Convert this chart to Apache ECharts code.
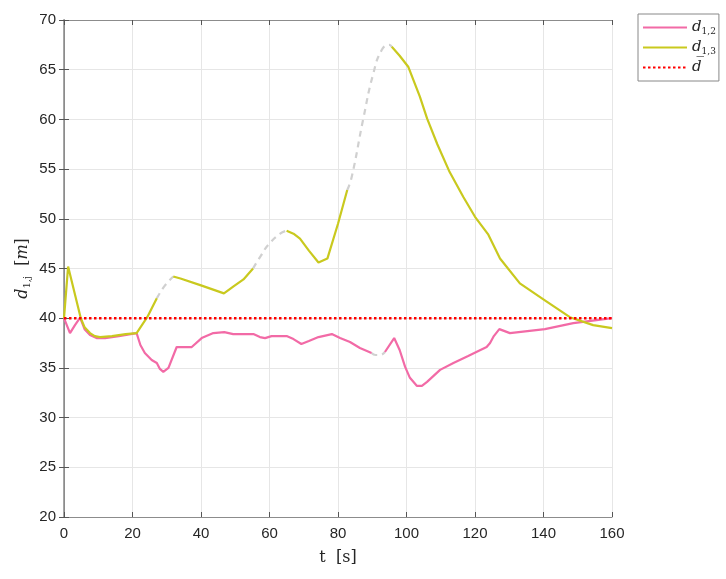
<!DOCTYPE html>
<html>
<head>
<meta charset="utf-8">
<script src="https://cdn.jsdelivr.net/npm/echarts@6/dist/echarts.min.js"></script>
<style>html,body{margin:0;padding:0;background:#fff}#c{width:726px;height:579px}</style>
</head>
<body>
<div id="c"></div>
<script>
// ---- data ----
const xTicks = [0, 20, 40, 60, 80, 100, 120, 140, 160];
const yTicks = [20, 25, 30, 35, 40, 45, 50, 55, 60, 65, 70];
const dBar = 40;

// d_{1,2}: solid segment 1, gap (dashed gray), solid segment 2
const t12a = [0, 1.75, 3.2, 4.7, 6, 7.6, 9.5, 12, 16, 21.2, 22.3, 23.6, 25.6, 27.1, 28, 29, 30.5, 32.9, 37.3, 40.2, 43.6, 46.8, 49.4, 55.3, 57.2, 58.7, 60.6, 65, 67, 69.3, 71.5, 74.3, 78.2, 80.6, 83.5, 86.4, 89.8];
const v12a = [40, 38.5, 39.3, 40.05, 38.9, 38.3, 38.0, 38.0, 38.2, 38.5, 37.3, 36.5, 35.8, 35.5, 34.9, 34.6, 35.0, 37.1, 37.1, 38.0, 38.5, 38.6, 38.4, 38.4, 38.1, 38.0, 38.2, 38.2, 37.9, 37.4, 37.7, 38.1, 38.4, 38.0, 37.6, 37.0, 36.5];
const t12gap = [89.8, 91, 92.3, 93.7];
const v12gap = [36.5, 36.3, 36.3, 36.6];
const t12b = [93.7, 96.4, 98, 99.6, 101, 103, 104.5, 106, 109.8, 113.7, 118, 123.4, 124.4, 125.5, 127.1, 130.2, 140.4, 148.7, 160];
const v12b = [36.6, 38.0, 36.8, 35.1, 34.0, 33.2, 33.2, 33.6, 34.8, 35.5, 36.2, 37.1, 37.5, 38.2, 38.9, 38.5, 38.9, 39.5, 40.0];

// d_{1,3}: solid segments and dashed gray gaps
const t13a = [0, 1.2, 4.9, 6, 7.6, 9, 10.5, 14, 18, 21.2, 24.3, 27.1];
const v13a = [40, 45.2, 40, 39.1, 38.5, 38.2, 38.1, 38.2, 38.4, 38.5, 40.1, 42.0];
const t13gap1 = [27.1, 29.5, 31.9];
const v13gap1 = [42.0, 43.3, 44.2];
const t13b = [31.9, 34, 40, 46.7, 49.5, 52.4, 55.2];
const v13b = [44.2, 44.0, 43.3, 42.5, 43.2, 43.9, 45.0];
const t13gap2 = [55.2, 57.5, 59.7, 63.1, 65];
const v13gap2 = [45.0, 46.3, 47.4, 48.5, 48.8];
const t13c = [65, 67, 68.9, 71.5, 74.3, 76.9, 80, 82.7];
const v13c = [48.8, 48.5, 48.0, 46.8, 45.6, 46.0, 49.5, 52.9];
const t13gap3 = [82.7, 84, 87.4, 90.3, 92.8, 95, 95.7];
const v13gap3 = [52.9, 54.2, 60.1, 64.6, 67.0, 67.5, 67.3];
const t13d = [95.7, 98, 100.5, 103.9, 106, 109, 112.6, 116.6, 120, 123.9, 127.3, 133.1, 140.4, 147.7, 154.5, 160];
const v13d = [67.3, 66.4, 65.3, 62.3, 60.1, 57.5, 54.7, 52.2, 50.2, 48.4, 46.0, 43.5, 41.8, 40.1, 39.3, 39.0];

// ---- styles ----
const PINK = '#f26aa6';
const YEL = '#c9c91e';
const GRAY = '#d0d0d0';
const RED = '#ff0000';

const zip = (t, v) => t.map((x, i) => [x, v[i]]);

function solid(name, t, v, color) {
  return { name, type: 'line', data: zip(t, v), symbol: 'none', smooth: false,
    lineStyle: { color, width: 2.2 }, itemStyle: { color }, z: 3, animation: false };
}
function gap(t, v) {
  return { name: 'gap', type: 'line', data: zip(t, v), symbol: 'none', smooth: true,
    lineStyle: { color: GRAY, width: 2.2, type: [6, 5] }, z: 2, animation: false, silent: true };
}

const serif = 'DejaVu Serif';
const richLegend = {
  i: { fontFamily: serif, fontStyle: 'italic', fontSize: 15, color: '#262626' },
  s: { fontFamily: serif, fontSize: 9, color: '#262626', padding: [8, 0, 0, 0] }
};
const richAxis = {
  i: { fontFamily: serif, fontStyle: 'italic', fontSize: 16, color: '#262626' },
  s: { fontFamily: serif, fontSize: 10, color: '#262626', padding: [9, 0, 0, 0] },
  n: { fontFamily: serif, fontSize: 16, color: '#262626' }
};

const chart = echarts.init(document.getElementById('c'), null, { renderer: 'canvas' });
const option = {
  backgroundColor: '#fff',
  animation: false,
  grid: { left: 64, right: 114, top: 20, bottom: 62, containLabel: false },
  legend: {
    orient: 'vertical', left: 638, top: 14,
    data: ['d12', 'd13', 'dbar'],
    itemWidth: 44, itemHeight: 14, itemGap: 4,
    padding: [6, 3, 6, 4],
    itemStyle: { opacity: 0 },
    borderColor: '#888', borderWidth: 1, backgroundColor: '#fff',
    formatter: function (n) {
      if (n === 'd12') return '{i|d}{s|1,2}';
      if (n === 'd13') return '{i|d}{s|1,3}';
      return '{i|d\u0305}';
    },
    textStyle: { rich: richLegend, padding: [0, 0, 0, 0] }
  },
  xAxis: [
    { type: 'value', min: 0, max: 160, interval: 20, position: 'bottom',
      name: '{n|t  [s]}', nameLocation: 'middle', nameGap: 33, nameMoveOverlap: false,
      nameTextStyle: { rich: richAxis },
      axisLine: { show: true, lineStyle: { color: '#8c8c8c', width: 1 } },
      axisTick: { show: true, inside: true, length: 5, lineStyle: { color: '#555' } },
      axisLabel: { color: '#262626', fontSize: 15, fontFamily: 'Liberation Sans', margin: 9,
        formatter: v => xTicks.includes(v) ? String(v) : '' },
      splitLine: { show: true, lineStyle: { color: '#e6e6e6', width: 1 } } },
    { type: 'value', min: 0, max: 160, interval: 20, position: 'top',
      axisLine: { show: true, lineStyle: { color: '#8c8c8c', width: 1 } },
      axisTick: { show: true, inside: true, length: 5, lineStyle: { color: '#555' } },
      axisLabel: { show: false }, splitLine: { show: false } }
  ],
  yAxis: [
    { type: 'value', min: 20, max: 70, interval: 5, position: 'left',
      name: '{i|d}{s|1,j}{n|  [}{i|m}{n|]}', nameLocation: 'middle', nameGap: 32, nameRotate: 90,
      nameMoveOverlap: false,
      nameTextStyle: { rich: richAxis },
      axisLine: { show: true, lineStyle: { color: '#a6a6a6', width: 2 } },
      axisTick: { show: true, inside: true, length: 5, lineStyle: { color: '#555' } },
      axisLabel: { color: '#262626', fontSize: 15, fontFamily: 'Liberation Sans', margin: 8,
        formatter: v => yTicks.includes(v) ? String(v) : '' },
      splitLine: { show: true, lineStyle: { color: '#e6e6e6', width: 1 } } },
    { type: 'value', min: 20, max: 70, interval: 5, position: 'right',
      axisLine: { show: true, lineStyle: { color: '#8c8c8c', width: 1 } },
      axisTick: { show: true, inside: true, length: 5, lineStyle: { color: '#555' } },
      axisLabel: { show: false }, splitLine: { show: false } }
  ],
  series: [
    gap(t13gap1, v13gap1), gap(t13gap2, v13gap2), gap(t13gap3, v13gap3), gap(t12gap, v12gap),
    solid('d12', t12a, v12a, PINK),
    solid('d12', t12b, v12b, PINK),
    solid('d13', t13a, v13a, YEL),
    solid('d13', t13b, v13b, YEL),
    solid('d13', t13c, v13c, YEL),
    solid('d13', t13d, v13d, YEL),
    { name: 'dbar', type: 'line', symbol: 'none', data: [[0, dBar], [160, dBar]],
      lineStyle: { color: RED, width: 2.5, type: [2.5, 2.5] }, itemStyle: { color: RED }, z: 4 }
  ]
};
chart.setOption(option);
</script>
</body>
</html>
